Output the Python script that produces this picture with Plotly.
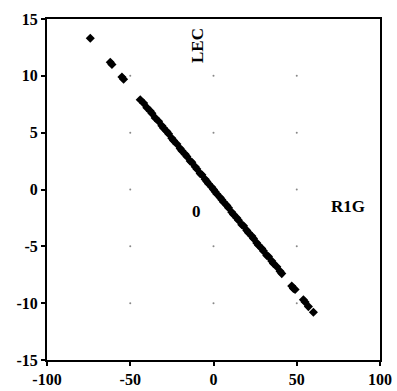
import plotly.graph_objects as go

x_vals = [-74, -62, -61, -55, -54, -44, -42, -40, -38, -37, -35, -33, -31, -30, -28, -27,
          -25, -24, -22, -20, -19, -17, -16, -14, -13, -11, -10, -8, -7, -5, -4, -3, -1,
          0, 1, 2, 4, 5, 6, 8, 9, 11, 12, 14, 15, 17, 18, 20, 21, 23, 24, 26, 27, 29, 30,
          32, 33, 35, 36, 38, 40, 41, 47, 48, 49, 54, 55, 57, 60]
y_vals = [13.3, 11.2, 11.0, 9.9, 9.7, 7.9, 7.6, 7.2, 6.9, 6.7, 6.3, 6.0, 5.6, 5.4, 5.1, 4.9,
          4.5, 4.3, 4.0, 3.6, 3.4, 3.1, 2.9, 2.5, 2.4, 2.0, 1.8, 1.4, 1.3, 0.9, 0.7, 0.5, 0.2,
          0.0, -0.2, -0.4, -0.7, -0.9, -1.1, -1.4, -1.6, -2.0, -2.2, -2.5, -2.7, -3.1, -3.2,
          -3.6, -3.8, -4.1, -4.3, -4.7, -4.9, -5.2, -5.4, -5.8, -5.9, -6.3, -6.5, -6.8, -7.2,
          -7.4, -8.5, -8.7, -8.8, -9.7, -9.9, -10.3, -10.8]

x_ticks = [-100, -50, 0, 50, 100]
y_ticks = [-15, -10, -5, 0, 5, 10, 15]

grid_x = [t for t in x_ticks[1:-1] for _ in y_ticks[1:-1]]
grid_y = [t for _ in x_ticks[1:-1] for t in y_ticks[1:-1]]

ann_font = dict(family="Liberation Serif", size=17, color="black")
tick_font = dict(family="Liberation Serif", size=16, color="black")

fig = go.Figure()
fig.add_trace(go.Scatter(x=grid_x, y=grid_y, mode="markers",
                         marker=dict(size=2, color="#888888"), hoverinfo="skip"))
fig.add_trace(go.Scatter(x=x_vals, y=y_vals, mode="markers",
                         marker=dict(symbol="diamond", size=7, color="black")))

fig.add_annotation(x=-10, y=12.7, text="<b>LEC</b>", textangle=-90, showarrow=False, font=ann_font)
fig.add_annotation(x=-10, y=-1.9, text="<b>0</b>", showarrow=False, font=ann_font)
fig.add_annotation(x=80.5, y=-1.5, text="<b>R1G</b>", showarrow=False, font=ann_font)

axis_common = dict(showgrid=False, zeroline=False, showline=True, linecolor="black",
                   linewidth=2, mirror=True, ticks="outside", ticklen=4, tickwidth=2,
                   tickcolor="black", tickfont=tick_font, automargin=False)
fig.update_xaxes(range=[-100, 100], tickvals=x_ticks,
                 ticktext=["<b>%d</b>" % t for t in x_ticks], **axis_common)
fig.update_yaxes(range=[-15, 15], tickvals=y_ticks,
                 ticktext=["<b>%d</b>" % t for t in y_ticks], **axis_common)
fig.update_layout(width=397, height=391, showlegend=False,
                  margin=dict(l=47, r=17, t=19, b=31),
                  plot_bgcolor="white", paper_bgcolor="white")
fig.write_html("out.html", config={"displayModeBar": False},
               post_script="document.body.style.margin='0';document.body.style.overflow='hidden';")
